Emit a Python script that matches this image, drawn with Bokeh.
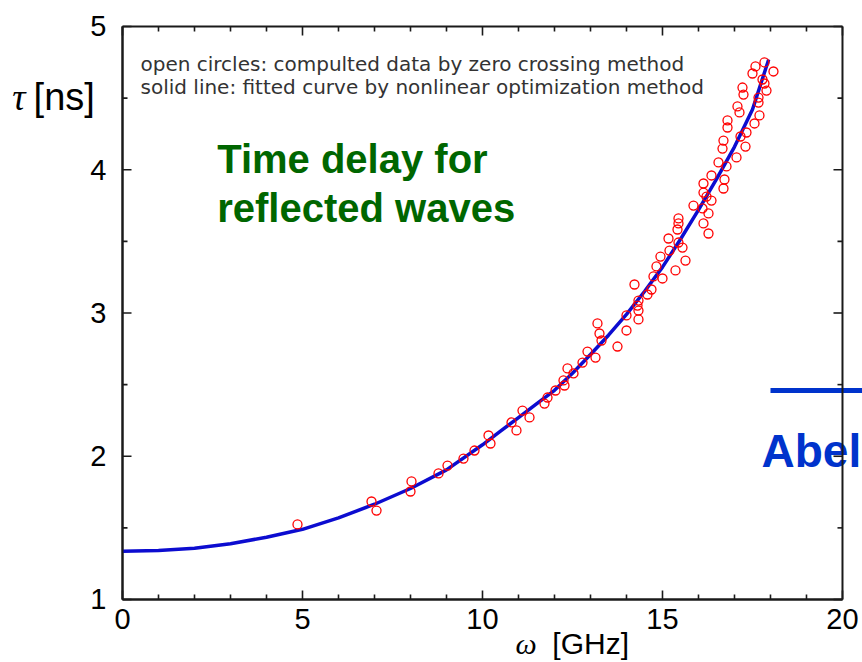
from bokeh.plotting import figure
from bokeh.models import Range1d, LinearAxis, FixedTicker, Label, Arrow
from bokeh.embed import file_html
from bokeh.resources import INLINE

# ---- data ----
curve_x = [0, 1, 2, 3, 4, 5, 6, 7, 8, 9, 10, 10.5, 11, 11.5, 12, 12.5, 13, 13.5,
           14, 14.5, 15, 15.5, 16, 16.5, 17, 17.5, 17.95]
curve_y = [1.337, 1.342, 1.358, 1.389, 1.435, 1.49, 1.57, 1.665, 1.775, 1.905,
           2.08, 2.175, 2.27, 2.365, 2.46, 2.58, 2.71, 2.845, 2.99, 3.15, 3.32,
           3.515, 3.72, 3.935, 4.16, 4.42, 4.77]

pts_x = [4.861, 6.917, 7.056, 8.028, 8.0, 8.778, 9.028, 9.472, 9.778, 10.167,
         10.222, 10.806, 10.944, 11.111, 11.306, 11.722, 11.806, 12.028, 12.278,
         12.25, 12.361, 12.528, 12.778, 12.917, 13.139, 13.194, 13.25, 13.306,
         13.75, 14.0, 14.0, 14.222, 14.333, 14.306, 14.333, 14.333, 14.583,
         14.694, 14.75, 14.833, 15.0, 14.944, 15.194, 15.361, 15.167, 15.417,
         15.444, 15.556, 15.639, 15.444, 15.444, 15.861, 16.278, 16.139, 16.278,
         16.111, 16.222, 16.361, 16.139, 16.139, 16.361, 16.694, 16.722, 16.778,
         16.556, 16.667, 16.694, 17.056, 17.306, 17.167, 17.333, 16.806, 16.806,
         17.083, 17.139, 17.556, 17.694, 17.667, 17.667, 17.222, 17.25, 17.889,
         17.778, 17.5, 17.583, 17.833, 18.083, 17.833]
pts_y = [1.524, 1.684, 1.621, 1.824, 1.754, 1.880, 1.935, 1.984, 2.040, 2.145,
         2.089, 2.236, 2.180, 2.319, 2.271, 2.368, 2.410, 2.459, 2.494, 2.529,
         2.613, 2.578, 2.654, 2.731, 2.689, 2.927, 2.857, 2.808, 2.766, 2.983,
         2.878, 3.199, 3.087, 3.052, 3.017, 2.955, 3.129, 3.164, 3.255, 3.325,
         3.241, 3.394, 3.436, 3.297, 3.520, 3.583, 3.660, 3.457, 3.366, 3.492,
         3.625, 3.750, 3.555, 3.625, 3.695, 3.730, 3.813, 3.785, 3.904, 3.841,
         3.960, 3.869, 3.932, 4.023, 4.051, 4.148, 4.204, 4.086, 4.162, 4.232,
         4.260, 4.295, 4.344, 4.442, 4.400, 4.323, 4.379, 4.469, 4.504, 4.574,
         4.525, 4.553, 4.630, 4.672, 4.721, 4.749, 4.686, 4.602]

x_major = [0, 5, 10, 15, 20]
x_minor = [1, 2, 3, 4, 6, 7, 8, 9, 11, 12, 13, 14, 16, 17, 18, 19]
y_major = [1, 2, 3, 4, 5]
y_minor = [1.5, 2.5, 3.5, 4.5]
x_lim = (0, 20)
y_lim = (1, 5)

note_lines = ["open circles: compulted data by zero crossing method",
              "solid line: fitted curve by nonlinear optimization method"]
title_lines = ["Time delay for", "reflected waves"]

SANS = "Liberation Sans"
INK = "#1a1a1a"
W, H = 862, 662
XR = (-3.389, 20.556)
YR = (0.5602, 5.1815)

# the frame fills the whole canvas; the plot box (0..20, 1..5) sits inside it
p = figure(width=W, height=H, x_range=Range1d(*XR), y_range=Range1d(*YR),
           output_backend="svg", toolbar_location=None,
           x_axis_type=None, y_axis_type=None,
           min_border=0, min_border_left=0, min_border_right=0,
           min_border_top=0, min_border_bottom=0)
p.title.visible = False
p.xgrid.visible = False
p.ygrid.visible = False
p.outline_line_color = None
p.background_fill_color = "white"
p.border_fill_color = "white"

# side element (drawn first so the box edge crosses it)
p.add_layout(Arrow(x_start=18.0, y_start=2.459, x_end=20.7, y_end=2.459, end=None,
                   line_color="#0033cc", line_width=5, level="underlay"))
p.add_layout(Label(x=17.75, y=2.038, text="Abel", text_font=SANS, text_font_size="46px",
                   text_font_style="bold", text_color="#0033cc",
                   text_baseline="alphabetic", level="underlay"))

# plot box edges as thin filled bars
xm = (x_lim[0] + x_lim[1]) / 2
ym = (y_lim[0] + y_lim[1]) / 2
p.rect(x=[xm, xm], y=list(y_lim), width=[x_lim[1] - x_lim[0]] * 2, height=2,
       height_units="screen", fill_color=INK, line_color=None)
p.rect(x=list(x_lim), y=[ym, ym], width=2, width_units="screen",
       height=[y_lim[1] - y_lim[0]] * 2, fill_color=INK, line_color=None)

# inward tick marks on all four sides (tick length given in pixels)
ux = (XR[1] - XR[0]) / W   # data units per pixel, x
uy = (YR[1] - YR[0]) / H   # data units per pixel, y
MAJ, MIN = 9, 5
for ticks, length in ((x_major, MAJ), (x_minor, MIN)):
    n = len(ticks)
    p.rect(x=ticks, y=[y_lim[0] + length * uy / 2] * n, width=1.6, width_units="screen",
           height=length, height_units="screen", fill_color=INK, line_color=None)
    p.rect(x=ticks, y=[y_lim[1] - length * uy / 2] * n, width=1.6, width_units="screen",
           height=length, height_units="screen", fill_color=INK, line_color=None)
for ticks, length in ((y_major, MAJ), (y_minor, MIN)):
    n = len(ticks)
    p.rect(x=[x_lim[0] + length * ux / 2] * n, y=ticks, width=length, width_units="screen",
           height=1.6, height_units="screen", fill_color=INK, line_color=None)
    p.rect(x=[x_lim[1] - length * ux / 2] * n, y=ticks, width=length, width_units="screen",
           height=1.6, height_units="screen", fill_color=INK, line_color=None)


def label_axis(major, loc, bounds, standoff):
    ax = LinearAxis(ticker=FixedTicker(ticks=major, minor_ticks=[]),
                    fixed_location=loc, bounds=bounds)
    ax.axis_line_color = INK
    ax.axis_line_width = 2
    ax.major_tick_line_color = None
    ax.minor_tick_line_color = None
    ax.major_tick_in = 0
    ax.major_tick_out = 0
    ax.minor_tick_in = 0
    ax.minor_tick_out = 0
    ax.major_label_standoff = standoff
    ax.major_label_text_font = SANS
    ax.major_label_text_font_size = "29px"
    ax.major_label_text_color = "black"
    return ax


p.add_layout(label_axis(x_major, y_lim[0], x_lim, 10), "below")
p.add_layout(label_axis(y_major, x_lim[0], y_lim, 16), "left")

p.line(curve_x, curve_y, line_color="#0c0cd0", line_width=3.5)
p.scatter(pts_x, pts_y, marker="circle", size=9, fill_color=None,
          line_color="#ff0000", line_width=1.3)

# notes
for txt, yy in zip(note_lines, [4.735, 4.577]):
    p.add_layout(Label(x=0.5, y=yy, text=txt, text_font="DejaVu Sans",
                       text_font_size="20px", text_color="#333333",
                       text_baseline="alphabetic", text_align="left"))
# green title
for txt, yy in zip(title_lines, [4.075, 3.733]):
    p.add_layout(Label(x=2.63, y=yy, text=txt, text_font=SANS, text_font_size="40px",
                       text_font_style="bold", text_color="#006600",
                       text_baseline="alphabetic", text_align="left"))

# axis titles
p.add_layout(Label(x=-3.06, y=4.505, text="τ", text_font="Liberation Serif",
                   text_font_size="37px", text_font_style="italic", text_color="black",
                   text_baseline="alphabetic"))
p.add_layout(Label(x=-2.47, y=4.505, text="[ns]", text_font=SANS,
                   text_font_size="38px", text_color="black", text_baseline="alphabetic"))
p.add_layout(Label(x=10.92, y=0.69, text="ω", text_font="Liberation Serif",
                   text_font_size="30px", text_font_style="italic", text_color="black",
                   text_baseline="alphabetic"))
p.add_layout(Label(x=11.94, y=0.69, text="[GHz]", text_font=SANS,
                   text_font_size="30px", text_color="black", text_baseline="alphabetic"))

open("out.html", "w").write(file_html(p, INLINE))
